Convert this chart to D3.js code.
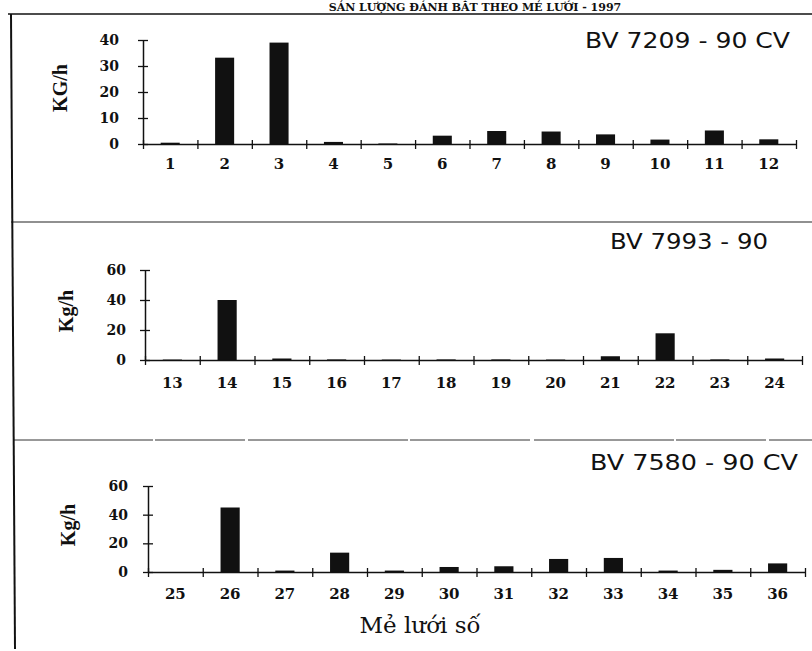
<!DOCTYPE html>
<html>
<head>
<meta charset="utf-8">
<script src="https://cdn.jsdelivr.net/npm/d3@7"></script>
<style>
  body { margin: 0; background: #fff; }
  svg { display: block; }
  .tick text { font-family: "DejaVu Serif", serif; font-weight: bold; }
</style>
</head>
<body>
<svg id="chart" width="812" height="651"></svg>
<script>
// Mẻ lưới (haul number) per vessel and catch rate (kg/h)
const hauls1 = [1, 2, 3, 4, 5, 6, 7, 8, 9, 10, 11, 12];
const catch1 = [0.5, 33.2, 39, 0.8, 0.2, 3.2, 5, 4.8, 3.7, 1.7, 5.2, 1.8];

const hauls2 = [13, 14, 15, 16, 17, 18, 19, 20, 21, 22, 23, 24];
const catch2 = [0.3, 40, 1, 0.4, 0.3, 0.4, 0.4, 0.3, 2.5, 17.8, 0.4, 1];

const hauls3 = [25, 26, 27, 28, 29, 30, 31, 32, 33, 34, 35, 36];
const catch3 = [0, 45, 1, 13.5, 1, 3.5, 4, 9.1, 9.8, 1, 1.5, 6];

const yTicks1 = [0, 10, 20, 30, 40];
const yTicks23 = [0, 20, 40, 60];

const titles = ["BV 7209 - 90 CV", "BV 7993 - 90", "BV 7580 - 90 CV"];
const yLabels = ["KG/h", "Kg/h", "Kg/h"];

const svg = d3.select('#chart');

// page frame (scanned sheet)
svg.append('text')
    .attr('x', 475).attr('y', 11)
    .attr('text-anchor', 'middle')
    .style('font-family', '"DejaVu Serif", serif')
    .style('font-weight', 'bold')
    .style('font-size', '11px')
    .attr('fill', '#111')
    .text('SẢN LƯỢNG ĐÁNH BẮT THEO MẺ LƯỚI - 1997');

svg.append('line').attr('x1', 8).attr('y1', 14).attr('x2', 812).attr('y2', 14)
    .attr('stroke', '#111').attr('stroke-width', 1.5);
svg.append('line').attr('x1', 11).attr('y1', 222).attr('x2', 812).attr('y2', 222)
    .attr('stroke', '#222').attr('stroke-width', 1.2);
svg.append('line').attr('x1', 13).attr('y1', 440).attr('x2', 812).attr('y2', 440)
    .attr('stroke', '#333').attr('stroke-width', 1)
    .attr('stroke-dasharray', '140 2 90 3 160 2 120 4');
svg.append('line').attr('x1', 11).attr('y1', 14).attr('x2', 15).attr('y2', 649)
    .attr('stroke', '#111').attr('stroke-width', 2);

const panels = [
    { hauls: hauls1, values: catch1, ticks: yTicks1, x0: 143, x1: 796, yBase: 144, yTop: 40, labelGap: 24, labelDy: 37, titleX: 790, titleY: 48, titleW: 205, ylx: 60, title: titles[0], ylabel: yLabels[0] },
    { hauls: hauls2, values: catch2, ticks: yTicks23, x0: 145, x1: 802, yBase: 360, yTop: 270, labelGap: 19, labelDy: 40, titleX: 768, titleY: 249, titleW: 158, ylx: 66, title: titles[1], ylabel: yLabels[1] },
    { hauls: hauls3, values: catch3, ticks: yTicks23, x0: 148, x1: 805, yBase: 572, yTop: 486, labelGap: 20, labelDy: 39, titleX: 798, titleY: 470, titleW: 208, ylx: 68, title: titles[2], ylabel: yLabels[2] }
];

panels.forEach(function (p) {
    const x = d3.scaleBand()
        .domain(p.hauls)
        .range([p.x0, p.x1])
        .padding(0);

    const xEdges = d3.scaleLinear()
        .domain([0, p.hauls.length])
        .range([p.x0, p.x1]);

    const y = d3.scaleLinear()
        .domain([0, d3.max(p.ticks)])
        .range([p.yBase, p.yTop]);

    const g = svg.append('g');

    // bars
    const bw = x.bandwidth() * 0.35;
    g.selectAll('rect')
        .data(p.values)
        .enter()
        .append('rect')
        .attr('x', (d, i) => x(p.hauls[i]) + (x.bandwidth() - bw) / 2)
        .attr('y', d => y(d))
        .attr('width', bw)
        .attr('height', d => y(0) - y(d))
        .attr('fill', '#111');

    // x axis: boundary ticks crossing the line
    const xAxis = g.append('g')
        .attr('transform', `translate(0, ${p.yBase})`)
        .call(d3.axisBottom(xEdges).tickValues(d3.range(p.hauls.length + 1)).tickFormat('').tickSizeOuter(0).tickSizeInner(5));
    xAxis.select('.domain').attr('stroke', '#111').attr('stroke-width', 1.5);
    xAxis.selectAll('.tick line').attr('y1', -4).attr('stroke', '#111').attr('stroke-width', 1.3);

    // x labels centred in bands
    const xLab = g.append('g')
        .attr('transform', `translate(0, ${p.yBase + p.labelDy - 12})`)
        .call(d3.axisBottom(x).tickSize(0));
    xLab.select('.domain').remove();
    xLab.selectAll('text').style('font-size', '15px').attr('dy', 0).attr('y', 0).attr('fill', '#111');

    // y axis
    const yAxis = g.append('g')
        .attr('transform', `translate(${p.x0}, 0)`)
        .call(d3.axisLeft(y).tickValues(p.ticks).tickSizeOuter(0).tickSizeInner(5).tickPadding(p.labelGap - 5));
    yAxis.select('.domain').attr('stroke', '#111').attr('stroke-width', 1.5);
    yAxis.selectAll('.tick line').attr('x1', 5).attr('stroke', '#111').attr('stroke-width', 1.3);
    yAxis.selectAll('text').style('font-size', '14px').attr('fill', '#111');

    // y label
    g.append('text')
        .attr('transform', `translate(${p.ylx}, ${(p.yBase + p.yTop) / 2 - 4}) rotate(-90)`)
        .attr('text-anchor', 'middle')
        .attr('dy', '0.35em')
        .style('font-family', '"Liberation Serif", serif')
        .style('font-weight', 'bold')
        .style('font-size', '20px')
        .attr('fill', '#111')
        .text(p.ylabel);

    // vessel title
    g.append('text')
        .attr('x', p.titleX - p.titleW)
        .attr('y', p.titleY)
        .attr('textLength', p.titleW)
        .attr('lengthAdjust', 'spacingAndGlyphs')
        .style('font-family', '"DejaVu Sans", sans-serif')
        .style('font-size', '22px')
        .attr('fill', '#111')
        .text(p.title);
});

// x title
svg.append('text')
    .attr('x', 420)
    .attr('y', 633)
    .attr('text-anchor', 'middle')
    .style('font-family', '"DejaVu Serif", serif')
    .style('font-size', '23px')
    .attr('fill', '#111')
    .text('Mẻ lưới số');
</script>
</body>
</html>
